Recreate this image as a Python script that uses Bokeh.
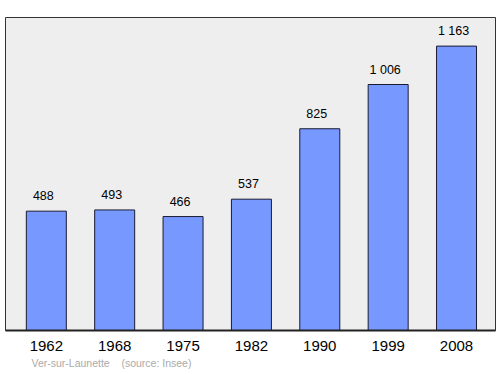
from bokeh.plotting import figure
from bokeh.models import ColumnDataSource, Range1d, FixedTicker, LabelSet, Title
from bokeh.core.properties import value
from bokeh.embed import file_html
from bokeh.resources import INLINE

years = ["1962", "1968", "1975", "1982", "1990", "1999", "2008"]
population = [488, 493, 466, 537, 825, 1006, 1163]
value_labels = ["{:,}".format(v).replace(",", "\u00a0") for v in population]
source_note = "Ver-sur-Launette\u00a0\u00a0\u00a0\u00a0(source: Insee)"

xs = list(range(len(years)))
src = ColumnDataSource(dict(x=xs, top=population, lab=value_labels))

p = figure(width=500, height=374, output_backend="svg", toolbar_location=None,
           x_range=Range1d(-0.597, 6.57), y_range=Range1d(0, 1280),
           min_border_left=5, min_border_right=5, min_border_top=17, min_border_bottom=44)
p.background_fill_color = "#eeeeee"
p.border_fill_color = "white"
p.outline_line_color = "#333333"
p.outline_line_width = 1
p.xgrid.visible = False
p.ygrid.visible = False
p.yaxis.visible = False

p.vbar(x="x", top="top", width=0.585, bottom=0, source=src,
       fill_color="#7799ff", line_color="#1a1a33", line_width=1)

ax = p.xaxis[0]
ax.ticker = FixedTicker(ticks=xs)
ax.major_label_overrides = {i: y for i, y in zip(xs, years)}
ax.major_tick_line_color = None
ax.minor_tick_line_color = None
ax.axis_line_color = "#222222"
ax.axis_line_width = 2
ax.major_label_text_font = "Liberation Sans"
ax.major_label_text_font_size = "15px"
ax.major_label_text_color = "black"
ax.major_label_standoff = 4

labels = LabelSet(x="x", y="top", text="lab", source=src, x_offset=-3, y_offset=11,
                  text_align="center", text_baseline="alphabetic",
                  text_font=value("Liberation Sans"), text_font_size=value("12.5px"),
                  text_color=value("black"))
p.add_layout(labels)

note = Title(text=source_note, align="left", offset=26, standoff=3,
             text_font="Liberation Sans", text_font_size="10.5px",
             text_font_style="normal", text_color="#aaaaaa")
p.add_layout(note, "below")

open("out.html", "w").write(file_html(p, INLINE))
